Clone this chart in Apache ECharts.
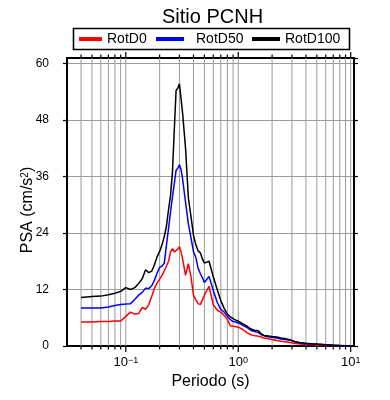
<!DOCTYPE html>
<html>
<head>
<meta charset="utf-8">
<script src="https://cdn.jsdelivr.net/npm/echarts@6/dist/echarts.min.js"></script>
<style>html,body{margin:0;padding:0;background:#fff;}#c{width:390px;height:400px;}</style>
</head>
<body>
<div id="c"></div>
<script>
const titleText = 'Sitio PCNH';
const seriesNames = ['RotD0', 'RotD50', 'RotD100'];
const seriesColors = ['#ff0000', '#0000ff', '#000000'];
const periods = [0.04,0.05,0.06,0.07,0.08,0.09,0.10,0.11,0.12,0.13,0.14,0.15,0.16,0.17,0.18,0.19,0.20,0.21,0.22,0.23,0.24,0.25,0.26,0.27,0.28,0.29,0.30,0.31,0.32,0.34,0.36,0.38,0.40,0.42,0.44,0.46,0.48,0.50,0.55,0.60,0.65,0.70,0.75,0.80,0.85,0.90,0.95,1.0,1.1,1.2,1.3,1.4,1.5,1.6,1.7,1.8,1.9,2.0,2.2,2.4,2.6,2.8,3.0,3.2,3.4,3.6,4.0,4.5,5.0,6.0,7.0,8.0,9.0,10];
const rotD0 = [5.1,5.1,5.2,5.2,5.3,5.3,6.3,7.2,6.8,6.9,8.2,7.8,8.8,10.5,12.3,13.4,14.2,15.0,16.0,17.0,18.0,20.0,20.7,20.0,20.2,20.6,21.1,20.0,18.5,15.0,17.5,14.7,10.8,9.8,9.0,8.8,9.8,10.8,12.7,8.8,7.6,7.2,6.5,5.6,4.3,4.2,4.1,4.0,3.5,2.8,2.4,2.2,2.1,1.9,1.7,1.6,1.5,1.4,1.15,1.0,0.9,0.8,0.7,0.55,0.5,0.4,0.3,0.25,0.2,0.12,0.08,0.05,0.03,0.02];
const rotD50 = [8.1,8.1,8.1,8.3,8.6,8.8,8.9,9.0,9.9,10.8,11.4,12.3,12.2,12.8,14.0,15.5,16.7,17.0,17.6,21.5,25.0,28.5,31.7,34.5,37.3,37.8,38.5,37.5,35.5,30.5,26.0,23.0,20.0,18.8,16.5,15.4,14.5,13.5,14.8,11.8,9.3,7.8,7.2,6.3,5.6,5.2,5.1,4.9,4.4,3.9,3.3,3.1,2.9,2.4,2.2,2.0,1.9,1.85,1.7,1.5,1.4,1.3,1.15,0.9,0.75,0.65,0.5,0.45,0.35,0.25,0.15,0.1,0.05,0.04];
const rotD100 = [10.3,10.5,10.6,10.9,11.2,11.6,12.4,12.0,12.4,13.3,14.3,16.2,15.6,15.9,17.3,19.0,20.1,21.5,23.3,25.5,29.0,32.0,37.0,46.0,54.3,54.8,55.7,52.5,49.5,42.0,31.5,27.5,23.5,21.5,20.2,19.8,18.5,17.6,18.0,14.7,12.0,9.6,8.0,6.8,6.2,5.8,5.5,5.3,4.7,4.2,3.6,3.3,3.3,2.6,2.2,2.2,2.1,2.0,1.9,1.7,1.6,1.4,1.2,0.9,0.8,0.7,0.6,0.5,0.45,0.28,0.18,0.1,0.07,0.05];
const xMajorTicks = [0.1, 1, 10];
const xMinorTicks = [0.04,0.05,0.06,0.07,0.08,0.09,0.2,0.3,0.4,0.5,0.6,0.7,0.8,0.9,2,3,4,5,6,7,8,9];
const xMin = 0.03, xMax = 10.7;
const yMin = 0, yMax = 61.2, yStep = 12;
const xName = 'Periodo (s)';
const yName = 'PSA (cm/s{sup|2})';

const FONT = '"Liberation Sans", Arial, Helvetica, sans-serif';
const chart = echarts.init(document.getElementById('c'), null, {renderer: 'canvas'});

const allSeriesData = [rotD0, rotD50, rotD100].map(vals => periods.map((p, i) => [p, vals[i]]));
const tickData = xMajorTicks.map(v => [v, 1]).concat(xMinorTicks.map(v => [v, 0]));

function supLabel(v) {
  const e = Math.log10(v);
  const r = Math.round(e);
  if (Math.abs(e - r) > 0.01) return '';
  const s = r < 0 ? '\u2212' + Math.abs(r) : String(r);
  return '{b|10}{sup|' + s + '}';
}

const option = {
  animation: false,
  backgroundColor: '#fff',
  title: {
    text: titleText,
    left: 157, top: 2,
    textStyle: {fontFamily: FONT, fontSize: 20, fontWeight: 'normal', color: '#000'}
  },
  legend: seriesNames.map((n, i) => ({
    data: [n],
    left: [79, 156, 252][i],
    top: 32,
    icon: 'rect',
    itemWidth: [23, 28, 28][i],
    itemHeight: 4,
    padding: 0,
    textStyle: {fontFamily: FONT, fontSize: 14, color: '#000', padding: [0, 0, 0, [0, 7, 0][i]]},
    selectedMode: false
  })),
  graphic: [{
    type: 'rect', silent: true,
    shape: {x: 73.5, y: 28.5, width: 276, height: 21},
    style: {fill: 'transparent', stroke: '#000', lineWidth: 1.6}
  }],
  grid: {left: 67, right: 36, top: 58, bottom: 54, show: false},
  xAxis: [{
    type: 'log', logBase: 10, min: xMin, max: xMax, position: 'bottom',
    axisLine: {show: true, onZero: false, lineStyle: {color: '#000', width: 2}},
    axisTick: {show: false},
    splitLine: {show: false},
    axisLabel: {
      margin: 10, formatter: supLabel, showMinLabel: false, showMaxLabel: false,
      rich: {
        b: {fontFamily: FONT, fontSize: 13, color: '#000'},
        sup: {fontFamily: FONT, fontSize: 9, color: '#000', verticalAlign: 'top'}
      }
    },
    name: xName, nameLocation: 'middle', nameGap: 28, nameMoveOverlap: false,
    nameTextStyle: {fontFamily: FONT, fontSize: 16, color: '#000'}
  }, {
    type: 'log', logBase: 10, min: xMin, max: xMax, position: 'top',
    axisLine: {show: true, onZero: false, lineStyle: {color: '#000', width: 2}},
    axisTick: {show: false}, axisLabel: {show: false}, splitLine: {show: false}
  }],
  yAxis: [{
    type: 'value', min: yMin, max: yMax, interval: yStep, position: 'left',
    axisLine: {show: true, onZero: false, lineStyle: {color: '#000', width: 2}},
    axisTick: {show: true, inside: false, length: 4, lineStyle: {color: '#000', width: 1.2}},
    splitLine: {show: true, lineStyle: {color: '#9a9a9a', width: 1}},
    axisLabel: {margin: 18, showMaxLabel: false, fontFamily: FONT, fontSize: 12, color: '#000'},
    name: yName, nameLocation: 'middle', nameGap: 31, nameMoveOverlap: false,
    nameTextStyle: {fontFamily: FONT, fontSize: 16, color: '#000', padding: [0, 16, 0, 0],
      rich: {sup: {fontFamily: FONT, fontSize: 10, color: '#000', verticalAlign: 'top'}}}
  }, {
    type: 'value', min: yMin, max: yMax, interval: yStep, position: 'right',
    axisLine: {show: true, onZero: false, lineStyle: {color: '#000', width: 2}},
    axisTick: {show: true, inside: false, length: 4, lineStyle: {color: '#000', width: 1.2}},
    splitLine: {show: false}, axisLabel: {show: false}
  }],
  series: [{
    type: 'custom', name: 'grid', silent: true, z: 1,
    xAxisIndex: 0, yAxisIndex: 0,
    data: tickData,
    encode: {x: 0},
    renderItem: function (params, api) {
      const v = api.value(0);
      const major = api.value(1) === 1;
      const bot = api.coord([v, yMin]);
      const top = api.coord([v, yMax]);
      const len = major ? 6 : 3.5;
      return {type: 'group', children: [
        {type: 'line', shape: {x1: bot[0], y1: bot[1], x2: top[0], y2: top[1]}, style: {stroke: '#9a9a9a', lineWidth: 1}},
        {type: 'line', shape: {x1: bot[0], y1: bot[1], x2: bot[0], y2: bot[1] + len}, style: {stroke: '#000', lineWidth: 1.2}},
        {type: 'line', shape: {x1: top[0], y1: top[1], x2: top[0], y2: top[1] - len}, style: {stroke: '#000', lineWidth: 1.2}}
      ]};
    }
  }].concat(seriesNames.map((n, i) => ({
    type: 'line', name: n, data: allSeriesData[i],
    xAxisIndex: 0, yAxisIndex: 0,
    showSymbol: false, symbol: 'none', z: 3 + i,
    color: seriesColors[i],
    lineStyle: {color: seriesColors[i], width: 1.5}
  })))
};
chart.setOption(option);
</script>
</body>
</html>
